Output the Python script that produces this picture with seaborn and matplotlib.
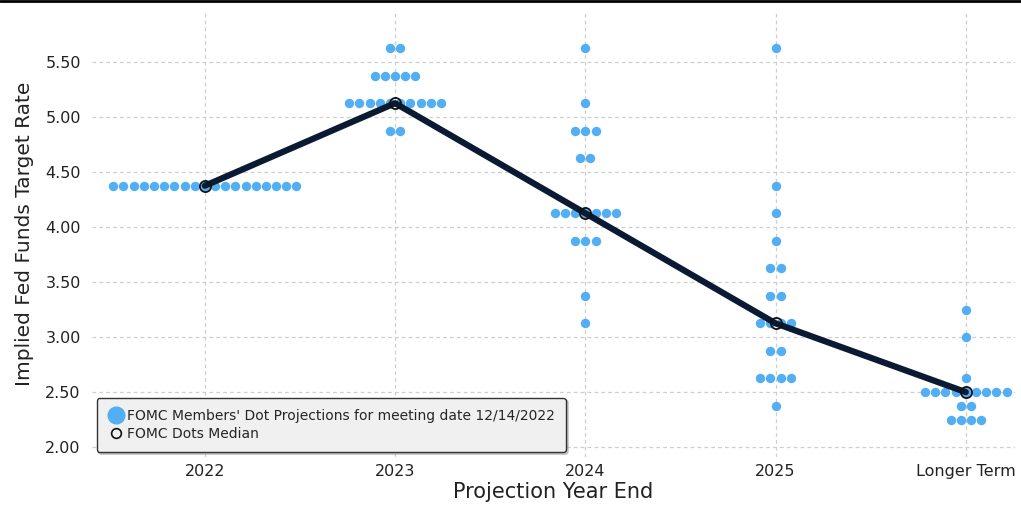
import matplotlib.pyplot as plt
import numpy as np
import pandas as pd
import seaborn as sns
from matplotlib.lines import Line2D

# ~~~~~~~~~~~~~~~~~~~~~~~~~~~~~~~~~~~~~~~~~~~~~~~~~~~~~~~~~~~~~~~~~~~~~
# DATA: FOMC dot plot, meeting of 12/14/2022
# ~~~~~~~~~~~~~~~~~~~~~~~~~~~~~~~~~~~~~~~~~~~~~~~~~~~~~~~~~~~~~~~~~~~~~
categories = ["2022", "2023", "2024", "2025", "Longer Term"]

rates_2022 = [4.375]
counts_2022 = [19]
rates_2023 = [5.625, 5.375, 5.125, 4.875]
counts_2023 = [2, 5, 10, 2]
rates_2024 = [5.625, 5.125, 4.875, 4.625, 4.125, 3.875, 3.375, 3.125]
counts_2024 = [1, 1, 3, 2, 7, 3, 1, 1]
rates_2025 = [5.625, 4.375, 4.125, 3.875, 3.625, 3.375, 3.125, 2.875, 2.625, 2.375]
counts_2025 = [1, 1, 1, 1, 2, 2, 4, 2, 4, 1]
rates_longer = [3.25, 3.0, 2.625, 2.5, 2.375, 2.25]
counts_longer = [1, 1, 1, 9, 2, 4]

medians = [4.375, 5.125, 4.125, 3.125, 2.5]

dot_color = "#52aff4"
line_color = "#0b1a33"

# ~~~~~~~~~~~~~~~~~~~~~~~~~~~~~~~~~~~~~~~~~~~~~~~~~~~~~~~~~~~~~~~~~~~~~
# build the dot table, dots of the same rate spread out side by side
# ~~~~~~~~~~~~~~~~~~~~~~~~~~~~~~~~~~~~~~~~~~~~~~~~~~~~~~~~~~~~~~~~~~~~~
all_rates = [rates_2022, rates_2023, rates_2024, rates_2025, rates_longer]
all_counts = [counts_2022, counts_2023, counts_2024, counts_2025, counts_longer]
step = 0.0535  # horizontal spacing of dots (data units)

rows = []
for pos, (rates, counts) in enumerate(zip(all_rates, all_counts)):
    for r, n in zip(rates, counts):
        offs = (np.arange(n) - (n - 1) / 2) * step
        for o in offs:
            rows.append({"x": pos + o, "rate": r})
dots = pd.DataFrame(rows)

med_df = pd.DataFrame({"x": np.arange(len(categories)), "rate": medians})

# ~~~~~~~~~~~~~~~~~~~~~~~~~~~~~~~~~~~~~~~~~~~~~~~~~~~~~~~~~~~~~~~~~~~~~
# PLOT
# ~~~~~~~~~~~~~~~~~~~~~~~~~~~~~~~~~~~~~~~~~~~~~~~~~~~~~~~~~~~~~~~~~~~~~
sns.set_style("whitegrid", {"grid.linestyle": (0, (3, 2.5)), "grid.color": "#cfcfcf"})
plt.rcParams["font.family"] = ["DejaVu Sans"]

fig = plt.figure(figsize=(10.21, 5.09), dpi=100)
ax = fig.add_axes([0.090, 0.102, 0.904, 0.878])

sns.scatterplot(data=dots, x="x", y="rate", color=dot_color, s=46,
                linewidth=0, ax=ax, zorder=3)
sns.lineplot(data=med_df, x="x", y="rate", color=line_color, lw=4.5,
             marker="o", markersize=8, markerfacecolor="none",
             markeredgecolor="#111111", markeredgewidth=1.3, ax=ax, zorder=4)

ax.set_xlim(-0.594, 4.258)
ax.set_ylim(1.91, 5.97)
ax.set_xticks(range(len(categories)))
ax.set_xticklabels(categories)
ax.set_yticks(np.arange(2.0, 5.51, 0.5))
ax.set_yticklabels([f"{v:.2f}" for v in np.arange(2.0, 5.51, 0.5)])
ax.tick_params(axis="both", length=0, labelsize=11.5, colors="#222222")
ax.tick_params(axis="y", pad=8)
ax.tick_params(axis="x", pad=5)
ax.grid(True, lw=0.9)
sns.despine(ax=ax, left=True, bottom=True)

ax.set_xlabel("Projection Year End", fontsize=15, color="#222222", labelpad=2)
ax.set_ylabel("Implied Fed Funds Target Rate", fontsize=14.5, color="#222222", labelpad=8)

handles = [
    Line2D([], [], ls="none", marker="o", markersize=12, markerfacecolor=dot_color,
           markeredgecolor=dot_color),
    Line2D([], [], ls="none", marker="o", markersize=7, markerfacecolor="none",
           markeredgecolor="#111111", markeredgewidth=1.2),
]
leg = ax.legend(handles, ["FOMC Members' Dot Projections for meeting date 12/14/2022",
                          "FOMC Dots Median"],
                loc="lower left", bbox_to_anchor=(0.005, 0.011), borderaxespad=0,
                fontsize=10, frameon=True, fancybox=True,
                shadow={"color": "0.6", "alpha": 0.5, "ox": 1.5, "oy": -1.5},
                handletextpad=0.2, handlelength=1.2, labelspacing=0.3,
                borderpad=0.8, framealpha=1)
leg.get_frame().set_facecolor("#f0f0f0")
leg.get_frame().set_edgecolor("#333333")

# thin black rule at the very top of the figure
fig.add_artist(Line2D([0, 1], [0.998, 0.998], transform=fig.transFigure,
                      color="black", lw=2))

fig.savefig("out.png", dpi=100)
